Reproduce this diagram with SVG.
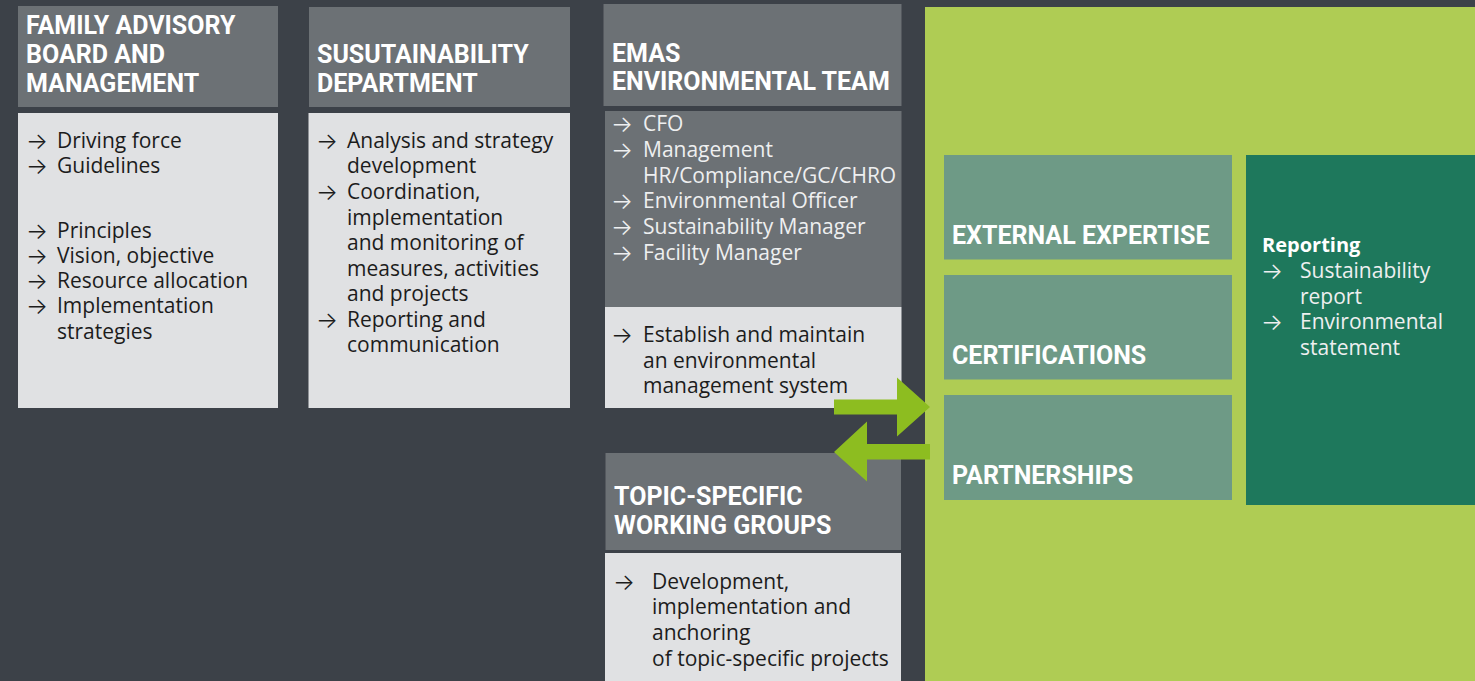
<svg xmlns="http://www.w3.org/2000/svg" width="1475" height="681" viewBox="0 0 1475 681">
<style>
.bg{fill:#3c4148}
.hdr{fill:#6c7175}
.lt{fill:#e0e1e3}
.lime{fill:#afcc54}
.sage{fill:#6e9a86}
.dg{fill:#1e785c}
.conn{fill:#8dbd20}
.h{font-family:Roboto,"Liberation Sans",sans-serif;font-weight:700;font-size:25px;fill:#ffffff}
.b{font-family:"Open Sans","Liberation Sans",sans-serif;font-size:21px;fill:#1c1c1c}
.w{fill:#eeeff0}
.a{font-family:Inter,"DejaVu Sans",sans-serif;font-weight:300;font-size:23px;fill:#1c1c1c}
.aw{fill:#eeeff0}
.rb{font-family:"Open Sans","Liberation Sans",sans-serif;font-weight:700;font-size:20px;fill:#ffffff}
</style>
<rect class="bg" x="0" y="0" width="1475" height="681"/>

<g id="family-advisory-board">
<rect class="hdr" x="18" y="6" width="260" height="101"/>
<text class="h" x="26" y="34">FAMILY ADVISORY</text>
<text class="h" x="26" y="63">BOARD AND</text>
<text class="h" x="26" y="92">MANAGEMENT</text>
<rect class="lt" x="18" y="113" width="260" height="295"/>
<text class="a" x="26" y="148.5">→</text><text class="b" x="57" y="147.5">Driving force</text>
<text class="a" x="26" y="174">→</text><text class="b" x="57" y="173">Guidelines</text>
<text class="a" x="26" y="238.5">→</text><text class="b" x="57" y="237.5">Principles</text>
<text class="a" x="26" y="263.5">→</text><text class="b" x="57" y="262.5">Vision, objective</text>
<text class="a" x="26" y="289">→</text><text class="b" x="57" y="288">Resource allocation</text>
<text class="a" x="26" y="314">→</text><text class="b" x="57" y="313">Implementation</text>
<text class="b" x="57" y="338.5">strategies</text>
</g>

<g id="sustainability-department">
<rect class="hdr" x="309" y="7" width="261" height="100"/>
<text class="h" x="317" y="63">SUSUTAINABILITY</text>
<text class="h" x="317" y="92">DEPARTMENT</text>
<rect class="lt" x="308.5" y="113" width="261.5" height="295"/>
<text class="a" x="316" y="148.5">→</text><text class="b" x="347" y="147.5">Analysis and strategy</text>
<text class="b" x="347" y="173">development</text>
<text class="a" x="316" y="200">→</text><text class="b" x="347" y="199">Coordination,</text>
<text class="b" x="347" y="224.5">implementation</text>
<text class="b" x="347" y="250">and monitoring of</text>
<text class="b" x="347" y="275.5">measures, activities</text>
<text class="b" x="347" y="301">and projects</text>
<text class="a" x="316" y="328">→</text><text class="b" x="347" y="327">Reporting and</text>
<text class="b" x="347" y="352">communication</text>
</g>

<g id="emas-environmental-team">
<rect class="hdr" x="603.5" y="4" width="298" height="102"/>
<text class="h" x="612" y="62">EMAS</text>
<text class="h" x="612" y="90">ENVIRONMENTAL TEAM</text>
<rect class="hdr" x="605" y="111" width="296.5" height="196"/>
<text class="a aw" x="611" y="132">→</text><text class="b w" x="643" y="131">CFO</text>
<text class="a aw" x="611" y="157.5">→</text><text class="b w" x="643" y="156.5">Management</text>
<text class="b w" x="643" y="182.5">HR/Compliance/GC/CHRO</text>
<text class="a aw" x="611" y="209">→</text><text class="b w" x="643" y="208">Environmental Officer</text>
<text class="a aw" x="611" y="234.5">→</text><text class="b w" x="643" y="233.5">Sustainability Manager</text>
<text class="a aw" x="611" y="260.5">→</text><text class="b w" x="643" y="259.5">Facility Manager</text>
<rect class="lt" x="605" y="307" width="296.5" height="101"/>
<text class="a" x="611" y="342.5">→</text><text class="b" x="643" y="341.5">Establish and maintain</text>
<text class="b" x="643" y="367.5">an environmental</text>
<text class="b" x="643" y="393">management system</text>
</g>

<g id="topic-specific-working-groups">
<rect class="hdr" x="605.5" y="453" width="295.5" height="97"/>
<text class="h" x="614" y="505">TOPIC-SPECIFIC</text>
<text class="h" x="614" y="534">WORKING GROUPS</text>
<rect class="lt" x="605" y="553" width="296" height="128"/>
<text class="a" x="613" y="589.5">→</text><text class="b" x="652" y="588.5">Development,</text>
<text class="b" x="652" y="614">implementation and</text>
<text class="b" x="652" y="640">anchoring</text>
<text class="b" x="652" y="665.5">of topic-specific projects</text>
</g>

<g id="external-area">
<rect class="lime" x="925" y="7" width="550" height="674"/>
</g>

<g id="external-expertise">
<rect class="sage" x="944" y="155" width="288" height="104.5"/>
<text class="h" x="952" y="243.5">EXTERNAL EXPERTISE</text>
</g>

<g id="certifications">
<rect class="sage" x="944" y="275" width="288" height="104.5"/>
<text class="h" x="952" y="363.5">CERTIFICATIONS</text>
</g>

<g id="partnerships">
<rect class="sage" x="944" y="395" width="288" height="105"/>
<text class="h" x="952" y="483.5">PARTNERSHIPS</text>
</g>

<g id="reporting">
<rect class="dg" x="1246" y="155" width="229" height="350"/>
<text class="rb" x="1262" y="252">Reporting</text>
<text class="a aw" x="1261" y="278.5">→</text><text class="b w" x="1300" y="277.5">Sustainability</text>
<text class="b w" x="1300" y="303.5">report</text>
<text class="a aw" x="1261" y="330">→</text><text class="b w" x="1300" y="329">Environmental</text>
<text class="b w" x="1300" y="354.5">statement</text>
</g>

<g id="connectors">
<polygon class="conn" points="834,399.5 897,399.5 897,377.5 930,407 897,436.5 897,414.5 834,414.5"/>
<polygon class="conn" points="930,444 867,444 867,421.5 834,452 867,481.5 867,459.5 930,459.5"/>
</g>
</svg>
